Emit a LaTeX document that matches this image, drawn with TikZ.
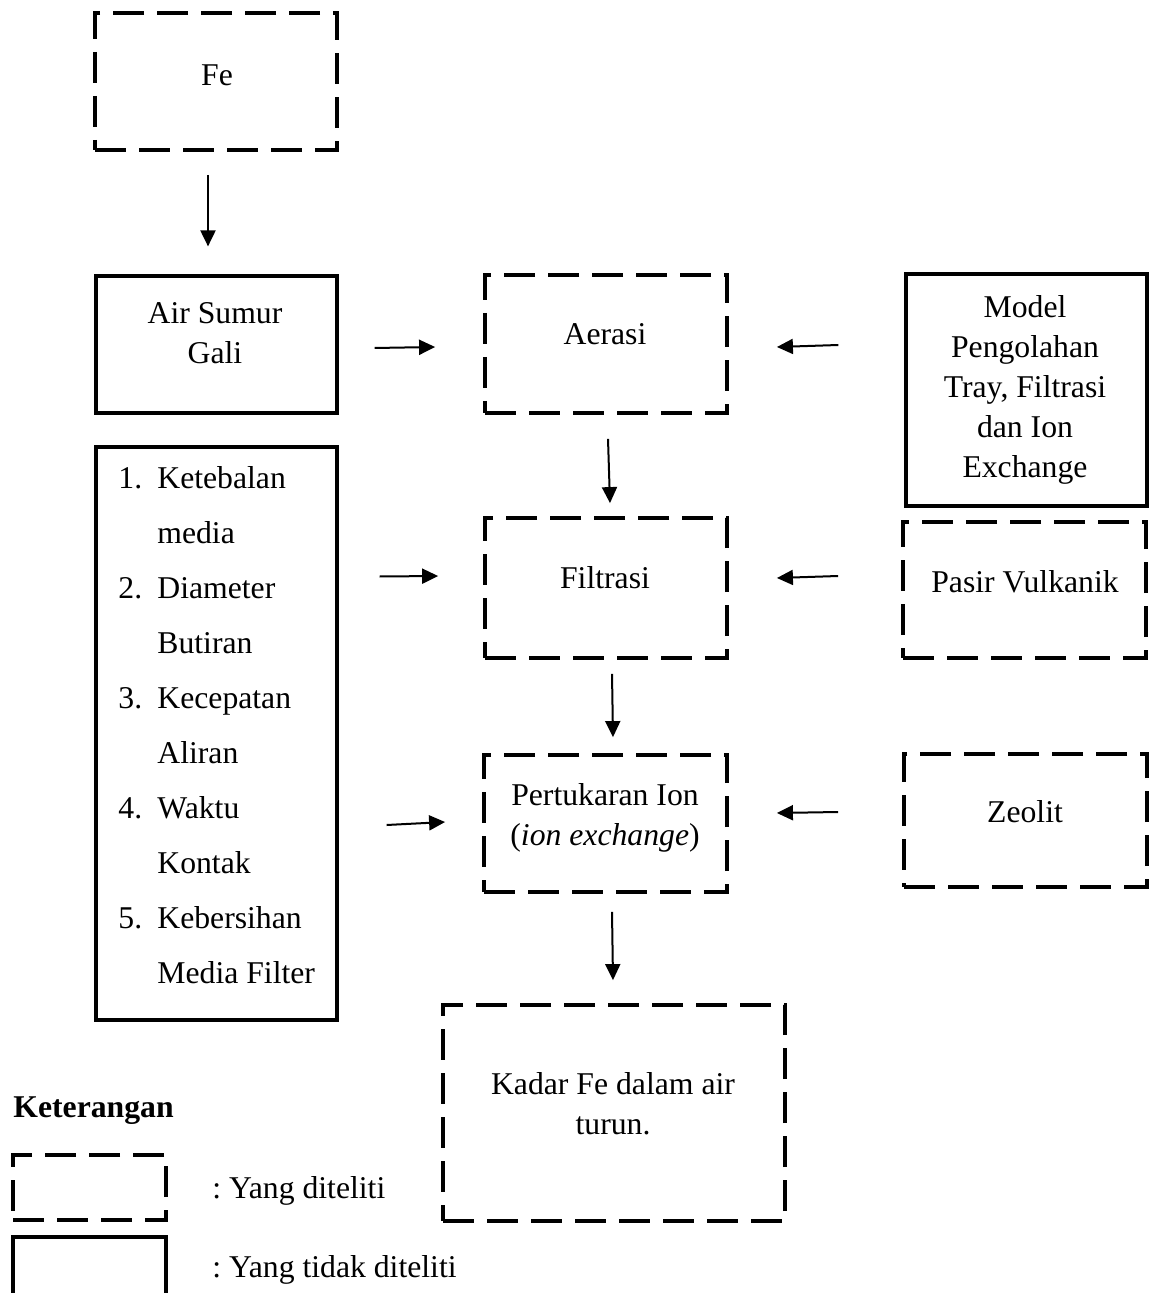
\documentclass[tikz,border=0pt]{standalone}
\usepackage{fontspec}
\setmainfont{Liberation Serif}
\usetikzlibrary{arrows.meta}
\frenchspacing
\begin{document}
\begin{tikzpicture}[x=0.5pt,y=-0.5pt,
  every node/.style={font=\fontsize{15.85}{20}\selectfont, inner sep=0pt},
  dbox/.style={draw, line width=1.9pt, dash pattern=on 15.5pt off 6.5pt},
  sbox/.style={draw, line width=1.6pt},
  txt/.style={align=center},
  arr/.style={line width=1pt, -{Triangle[length=8pt,width=7.5pt]}},
  ]
\useasboundingbox (0,0) rectangle (1153,1293);
% boxes
\node[dbox, minimum width=121pt, minimum height=68.5pt] (fe) at (216,81.5) {};
\node[sbox, minimum width=120.5pt, minimum height=68.5pt] (air) at (216.5,344.5) {};
\node[dbox, minimum width=121pt, minimum height=69pt] (aer) at (606,344) {};
\node[dbox, minimum width=121pt, minimum height=70pt] (fil) at (606,588) {};
\node[dbox, minimum width=121.5pt, minimum height=68.5pt] (per) at (605.5,823.5) {};
\node[dbox, minimum width=171pt, minimum height=108pt] (kad) at (614,1113) {};
\node[sbox, minimum width=120.5pt, minimum height=116pt] (mod) at (1026.5,390) {};
\node[dbox, minimum width=121.5pt, minimum height=68pt] (pas) at (1024.5,590) {};
\node[dbox, minimum width=121.5pt, minimum height=66.5pt] (zeo) at (1025.5,820.5) {};
\node[sbox, minimum width=120.5pt, minimum height=286.5pt] (lst) at (216.5,733.5) {};
\node[dbox, minimum width=76.5pt, minimum height=32.5pt] (leg1) at (89.5,1187.5) {};
\node[sbox, minimum width=76.5pt, minimum height=41.5pt] (leg2) at (89.5,1278.5) {};
% texts
\node[txt] (fe-t) at (217,75) {Fe};
\node[txt] (air-t) at (215,333) {Air Sumur\\Gali};
\node[txt] (aer-t) at (605,334) {Aerasi};
\node[txt] (fil-t) at (605,578) {Filtrasi};
\node[txt] (per-t) at (605,818) {Pertukaran Ion\\(\textit{ion exchange})};
\node[txt] (kad-t) at (613,1104) {Kadar Fe dalam air\\turun.};
\node[txt] (mod-t) at (1025,390) {Model\\Pengolahan\\Tray, Filtrasi\\dan Ion\\Exchange};
\node[txt] (pas-t) at (1025,582) {Pasir Vulkanik};
\node[txt] (zeo-t) at (1025,812) {Zeolit};
\node[anchor=west, align=left, font=\fontsize{15.85}{27.5}\selectfont] (lst-t) at (118,725)
 {\makebox[19.5pt][l]{1.}Ketebalan\\
  \hspace*{19.5pt}media\\
  \makebox[19.5pt][l]{2.}Diameter\\
  \hspace*{19.5pt}Butiran\\
  \makebox[19.5pt][l]{3.}Kecepatan\\
  \hspace*{19.5pt}Aliran\\
  \makebox[19.5pt][l]{4.}Waktu\\
  \hspace*{19.5pt}Kontak\\
  \makebox[19.5pt][l]{5.}Kebersihan\\
  \hspace*{19.5pt}Media Filter};
\node[anchor=base west, font=\fontsize{15.85}{20}\selectfont\bfseries] (ket) at (13,1117.5) {Keterangan};
\node[anchor=base west] (leg1-t) at (212,1198.5) {: Yang diteliti};
\node[anchor=base west] (leg2-t) at (212,1277.5) {: Yang tidak diteliti};
% connectors
\draw[arr] ([shift={(-8,23)}]fe.south) -- ([shift={(-8.5,-28)}]air.north);
\draw[arr] ([shift={(36,3.5)}]air.east) -- ([shift={(-48,3)}]aer.west);
\draw[arr] ([shift={(2,24)}]aer.south) -- ([shift={(4,-13)}]fil.north);
\draw[arr] ([shift={(6,14)}]fil.south) -- ([shift={(7.5,-16)}]per.north);
\draw[arr] ([shift={(6.5,18)}]per.south) -- ([shift={(-1,-23)}]kad.north);
\draw[arr] ([shift={(-66,-45)}]mod.west) -- ([shift={(48,3)}]aer.east);
\draw[arr] ([shift={(-63,-14)}]pas.west) -- ([shift={(48,-10)}]fil.east);
\draw[arr] ([shift={(-64,-8.5)}]zeo.west) -- ([shift={(48,-10.5)}]per.east);
\draw[arr] ([shift={(41,-157)}]lst.east) -- ([shift={(-45,-12)}]fil.west);
\draw[arr] ([shift={(48,91.5)}]lst.east) -- ([shift={(-37,-1.5)}]per.west);
\end{tikzpicture}
\end{document}
